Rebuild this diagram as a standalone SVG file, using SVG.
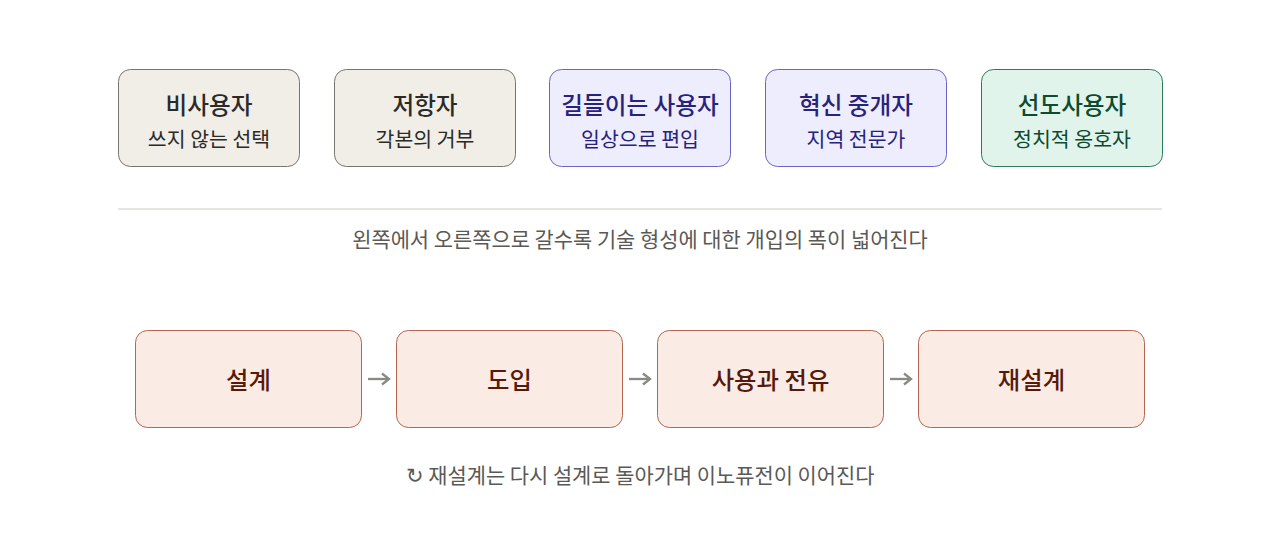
<svg xmlns="http://www.w3.org/2000/svg" width="1280" height="556" viewBox="0 0 1280 556">
<style>
text{font-family:"Noto Sans CJK KR","Noto Sans",sans-serif;text-anchor:middle}
.t{font-size:23.6px;font-weight:500}
.s{font-size:20.5px}
.g rect{fill:#f1eee7;stroke:#78756c}
.g text{fill:#2b2a27}
.p rect{fill:#eeedfd;stroke:#6b65c9}
.p text{fill:#27237d}
.e rect{fill:#e1f4eb;stroke:#2f7a59}
.e text{fill:#0d4a2f}
.r rect{fill:#faebe5;stroke:#b56650}
.r text{fill:#561a0c;font-size:24.4px;font-weight:500}
.cap{font-size:20.9px;fill:#5a5955}
</style>
<defs>
<marker id="ah" viewBox="0 0 12 14" refX="10" refY="7" markerWidth="12" markerHeight="14" markerUnits="userSpaceOnUse" orient="auto">
<path d="M3,1.5 L10,7 L3,12.5" fill="none" stroke="#8a8984" stroke-width="2.3"/>
</marker>
</defs>
<rect width="1280" height="556" fill="#ffffff"/>
<g id="n1" class="g"><rect x="118.5" y="69.5" width="181" height="97" rx="12"/><text class="t" x="209" y="113.5">비사용자</text><text class="s" x="209" y="146.5">쓰지 않는 선택</text></g>
<g id="n2" class="g"><rect x="334.5" y="69.5" width="181" height="97" rx="12"/><text class="t" x="425" y="113.5">저항자</text><text class="s" x="425" y="146.5">각본의 거부</text></g>
<g id="n3" class="p"><rect x="549.5" y="69.5" width="181" height="97" rx="12"/><text class="t" x="640" y="113.5">길들이는 사용자</text><text class="s" x="640" y="146.5">일상으로 편입</text></g>
<g id="n4" class="p"><rect x="765.5" y="69.5" width="181" height="97" rx="12"/><text class="t" x="856" y="113.5">혁신 중개자</text><text class="s" x="856" y="146.5">지역 전문가</text></g>
<g id="n5" class="e"><rect x="981.5" y="69.5" width="181" height="97" rx="12"/><text class="t" x="1072" y="113.5">선도사용자</text><text class="s" x="1072" y="146.5">정치적 옹호자</text></g>
<line x1="118" y1="209" x2="1162" y2="209" stroke="#dddcd8" stroke-width="1.5"/>
<text class="cap" x="640" y="247">왼쪽에서 오른쪽으로 갈수록 기술 형성에 대한 개입의 폭이 넓어진다</text>
<g id="b1" class="r"><rect x="135.5" y="330.5" width="226" height="97" rx="12"/><text x="248.5" y="388.5">설계</text></g>
<g id="b2" class="r"><rect x="396.5" y="330.5" width="226" height="97" rx="12"/><text x="509.5" y="388.5">도입</text></g>
<g id="b3" class="r"><rect x="657.5" y="330.5" width="226" height="97" rx="12"/><text x="770.5" y="388.5">사용과 전유</text></g>
<g id="b4" class="r"><rect x="918.5" y="330.5" width="226" height="97" rx="12"/><text x="1031.5" y="388.5">재설계</text></g>
<g id="connectors" stroke="#8a8984" stroke-width="2.3" fill="none">
<line x1="368" y1="379" x2="389" y2="379" marker-end="url(#ah)"/>
<line x1="629" y1="379" x2="650" y2="379" marker-end="url(#ah)"/>
<line x1="890" y1="379" x2="911" y2="379" marker-end="url(#ah)"/>
</g>
<text class="cap" x="640" y="483">↻ 재설계는 다시 설계로 돌아가며 이노퓨전이 이어진다</text>
</svg>
